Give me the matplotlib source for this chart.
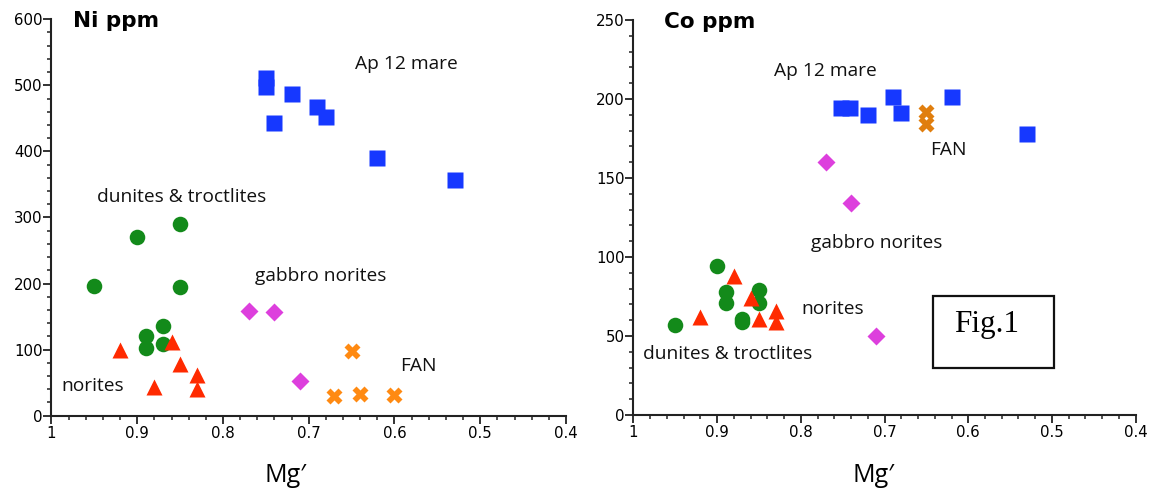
import matplotlib
matplotlib.use("Agg")
import matplotlib.pyplot as plt
from matplotlib.ticker import MultipleLocator, FuncFormatter
from matplotlib.patches import Rectangle

# ---------------- data ----------------
# Ni panel
mare_x_ni = [0.75, 0.75, 0.72, 0.74, 0.69, 0.68, 0.62, 0.53]
mare_ni = [511, 498, 487, 443, 467, 452, 390, 357]
dun_x_ni = [0.90, 0.85, 0.95, 0.85, 0.87, 0.89, 0.89, 0.87]
dun_ni = [270, 290, 197, 195, 136, 121, 103, 108]
nor_x_ni = [0.92, 0.86, 0.85, 0.88, 0.83, 0.83]
nor_ni = [100, 112, 78, 44, 62, 40]
gab_x_ni = [0.77, 0.74, 0.71]
gab_ni = [159, 157, 52]
fan_x_ni = [0.65, 0.67, 0.64, 0.60]
fan_ni = [98, 30, 33, 31]

# Co panel
mare_x_co = [0.752, 0.741, 0.72, 0.69, 0.68, 0.62, 0.53]
mare_co = [194, 194, 190, 201, 191, 201, 178]
dun_x_co = [0.95, 0.90, 0.89, 0.89, 0.87, 0.87, 0.85, 0.85]
dun_co = [57, 94, 78, 71, 61, 59, 79, 71]
nor_x_co = [0.92, 0.88, 0.86, 0.85, 0.83, 0.83]
nor_co = [62, 88, 74, 61, 66, 59]
gab_x_co = [0.77, 0.74, 0.71]
gab_co = [160, 134, 50]
fan_x_co = [0.65, 0.65]
fan_co = [192, 184]

x_ticks = [1, 0.9, 0.8, 0.7, 0.6, 0.5, 0.4]

# ---------------- styling ----------------
C_BLUE = "#1638FF"
C_GREEN = "#138A1A"
C_RED = "#FF2A00"
C_MAG = "#DD3FDD"
C_ORANGE = "#FF8A12"
C_ORANGE2 = "#E07E0E"

LABEL_FONT = ["Open Sans", "DejaVu Sans"]
TICK_FONT = ["DejaVu Sans"]

fig = plt.figure(figsize=(11.52, 4.93), dpi=100)
ax1 = fig.add_axes([0.0447, 0.1568, 0.4466, 0.8041])
ax2 = fig.add_axes([0.5499, 0.1582, 0.4359, 0.8012])


def style_axes(ax, ymax, ymajor, yminor, xlab_pos):
    ax.set_xlim(1, 0.4)
    ax.set_ylim(0, ymax)
    for s in ("top", "right"):
        ax.spines[s].set_visible(False)
    for s in ("left", "bottom"):
        ax.spines[s].set_linewidth(1.5)
        ax.spines[s].set_color("#222222")
    ax.set_xticks(x_ticks)
    ax.xaxis.set_minor_locator(MultipleLocator(0.02))
    ax.yaxis.set_major_locator(MultipleLocator(ymajor))
    ax.yaxis.set_minor_locator(MultipleLocator(yminor))
    ax.xaxis.set_major_formatter(FuncFormatter(lambda v, p: "%g" % round(v, 2)))
    ax.tick_params(which="major", direction="out", length=5.5, width=1.3,
                   color="#222222", labelsize=10.8, pad=2)
    ax.tick_params(which="minor", direction="out", length=3, width=1.1,
                   color="#222222")
    ax.tick_params(axis="y", which="major", pad=1)
    for lab in ax.get_xticklabels() + ax.get_yticklabels():
        lab.set_family(TICK_FONT)
    ax.text(xlab_pos, -0.152, "Mg\u2032", transform=ax.transAxes,
            ha="center", va="center", fontsize=18, family=LABEL_FONT)


def draw(ax, sets):
    for xs, ys, marker, ms, col in sets:
        ax.plot(xs, ys, ls="none", marker=marker, ms=ms, color=col,
                mec="none", clip_on=False)


style_axes(ax1, 600, 100, 20, 0.455)
style_axes(ax2, 250, 50, 10, 0.477)

draw(ax1, [
    (mare_x_ni, mare_ni, "s", 11.5, C_BLUE),
    (dun_x_ni, dun_ni, "o", 11.2, C_GREEN),
    (nor_x_ni, nor_ni, "^", 11.5, C_RED),
    (gab_x_ni, gab_ni, "D", 8.8, C_MAG),
    (fan_x_ni, fan_ni, "X", 11.5, C_ORANGE),
])
draw(ax2, [
    (mare_x_co, mare_co, "s", 11.5, C_BLUE),
    (dun_x_co, dun_co, "o", 11.2, C_GREEN),
    (nor_x_co, nor_co, "^", 11.5, C_RED),
    (gab_x_co, gab_co, "D", 8.8, C_MAG),
    (fan_x_co, fan_co, "X", 11.5, C_ORANGE2),
])

# titles
ax1.text(0.975, 588, "Ni ppm", fontsize=15.5, fontweight="bold",
         family=["DejaVu Sans"], ha="left", va="baseline")
ax2.text(0.963, 245, "Co ppm", fontsize=15.5, fontweight="bold",
         family=["DejaVu Sans"], ha="left", va="baseline")

# group labels
fs = 13.8
for ax, x, y, s in [
    (ax1, 0.646, 524, "Ap 12 mare"),
    (ax1, 0.947, 324, "dunites & troctlites"),
    (ax1, 0.763, 204, "gabbro norites"),
    (ax1, 0.593, 68, "FAN"),
    (ax1, 0.988, 38, "norites"),
    (ax2, 0.832, 214.6, "Ap 12 mare"),
    (ax2, 0.646, 164.6, "FAN"),
    (ax2, 0.788, 106, "gabbro norites"),
    (ax2, 0.799, 64, "norites"),
    (ax2, 0.989, 35.6, "dunites & troctlites"),
]:
    ax.text(x, y, s, fontsize=fs, family=LABEL_FONT, ha="left", va="baseline",
            color="#111111")

# Fig.1 box
ax2.add_patch(Rectangle((0.642, 29.6), 0.4976 - 0.642, 75.3 - 29.6,
                        fill=False, lw=1.6, ec="#111111"))
ax2.text(0.578, 57.6, "Fig.1", fontsize=22.5, family=["Liberation Serif"],
         ha="center", va="center")

fig.savefig("out.png", dpi=100)
